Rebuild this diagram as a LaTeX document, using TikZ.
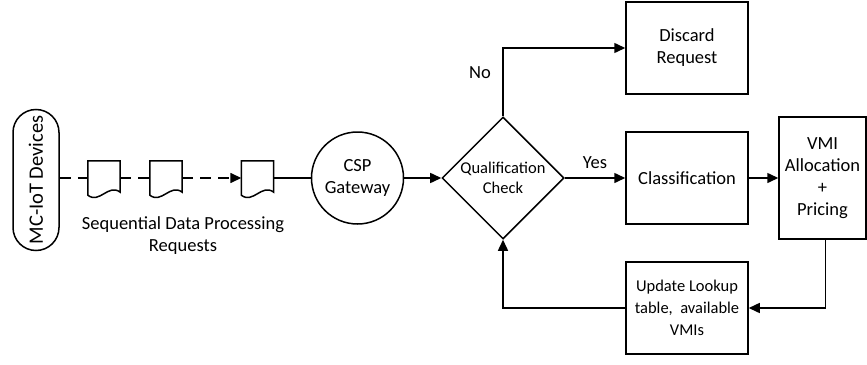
\documentclass[tikz,border=0pt]{standalone}
\usepackage{fontspec}
\setmainfont{Carlito}
\usetikzlibrary{positioning, arrows.meta, shapes.geometric, calc}

\tikzset{
    every node/.style={font=\fontsize{18.5}{22}\selectfont},
    proc/.style={draw, rectangle, line width=1.5pt, minimum width=122pt, minimum height=92pt, align=center, inner sep=2pt},
    doc/.style={minimum width=32pt, minimum height=34pt, inner sep=0pt},
    link/.style={line width=1.5pt},
    flow/.style={link, -{Triangle[length=11pt,width=10pt]}},
    seq/.style={link, dash pattern=on 11pt off 7pt},
}

\begin{document}
\begin{tikzpicture}[x=1pt, y=1pt, on grid]
    \useasboundingbox (0,0) rectangle (867,-364);

    \node[draw, rounded corners=23pt, line width=1.5pt, rotate=90, minimum width=141pt, minimum height=46pt, inner sep=0pt, font=\fontsize{20.5}{24}\selectfont] (dev) at (36,-180) {MC-IoT Devices};
    \node[doc] (doc1) at (104,-178) {};
    \node[doc, right=62pt of doc1] (doc2) {};
    \node[doc, right=91.5pt of doc2] (doc3) {};
    \node[draw, circle, line width=1.5pt, minimum size=92pt, inner sep=0pt, align=center, right=100pt of doc3] (csp) {CSP\\Gateway};
    \node[draw, diamond, aspect=1, line width=1.5pt, minimum size=122pt, inner sep=0pt, align=center, font=\fontsize{16.5}{19.5}\selectfont, right=145.5pt of csp] (qc) {Qualification\\Check};
    \node[proc, right=184pt of qc] (cls) {Classification};
    \node[proc, above=130pt of cls] (disc) {Discard\\Request};
    \node[proc, below=130pt of cls, font=\fontsize{16.5}{22}\selectfont] (upd) {Update Lookup\\table,~ available\\VMIs};
    \node[proc, minimum width=87pt, minimum height=122pt, right=135.5pt of cls] (vmi) {VMI\\Allocation\\+\\Pricing};
    \node[align=center] (seqlbl) at (183,-236) {Sequential Data Processing\\Requests};

    % document outlines
    \foreach \d in {doc1,doc2,doc3}
        \draw[link] (\d.north west) -- (\d.south west) .. controls +(12,-9) and +(-12,9) .. ([yshift=3pt]\d.south east) -- (\d.north east) -- cycle;

    \draw[seq] ([yshift=2pt]dev.south) -- (doc1);
    \draw[seq] (doc1) -- (doc2);
    \draw[seq, -{Triangle[length=11pt,width=10pt]}] (doc2) -- (doc3);
    \draw[link] (doc3) -- (csp);
    \draw[flow] (csp) -- (qc);
    \draw[flow] (qc) -- node[above=5pt] {Yes} (cls);
    \draw[flow] (qc.north) |- node[pos=0.32, left=8pt] {No} (disc);
    \draw[flow] (cls) -- (vmi);
    \draw[flow] ([xshift=3pt]vmi.south) |- (upd);
    \draw[flow] (upd) -| (qc);
\end{tikzpicture}
\end{document}
